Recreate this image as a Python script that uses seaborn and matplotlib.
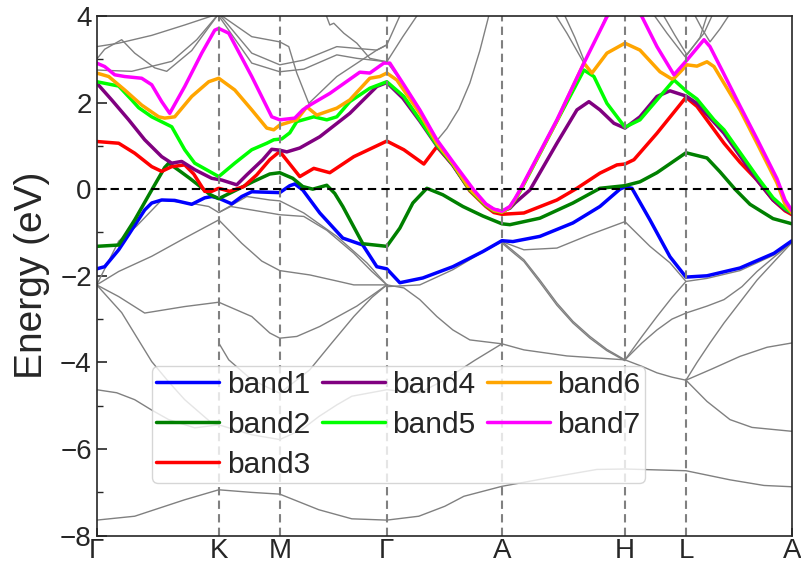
import matplotlib
matplotlib.use("Agg")
import matplotlib.pyplot as plt
import pandas as pd
import seaborn as sns

sns.set_style("ticks")
plt.rcParams["font.family"] = ["Liberation Sans", "DejaVu Sans"]

# high-symmetry points along the k-path (path distance units)
kpoints = [0, 122, 183, 290, 405, 528, 589, 695]
klabels = ["Γ", "K", "M", "Γ", "A", "H", "L", "A"]

# highlighted bands near the Fermi level
band1_k = [0, 8, 22, 32, 48, 55, 65, 78, 95, 108, 115, 122, 135, 145, 155, 183, 193, 198, 206, 223, 246, 266,
           280, 290, 303, 326, 356, 386, 405, 416, 443, 476, 503, 523, 528, 535, 553, 573, 589, 610, 643, 677, 695]
band1_e = [-1.84, -1.79, -1.40, -1.05, -0.48, -0.32, -0.25, -0.26, -0.35, -0.20, -0.17, -0.21, -0.34, -0.17, -0.06, -0.08, 0.08, 0.12, -0.02, -0.55, -1.13, -1.29,
           -1.79, -1.84, -2.16, -2.05, -1.79, -1.44, -1.19, -1.21, -1.09, -0.78, -0.40, 0.0, 0.05, 0.02, -0.71, -1.56, -2.03, -2.00, -1.82, -1.48, -1.19]

band2_k = [0, 22, 38, 55, 68, 72, 83, 93, 103, 113, 122, 136, 156, 173, 183, 196, 206, 216, 230, 238, 246, 266,
           290, 303, 316, 330, 346, 366, 386, 405, 413, 443, 476, 503, 528, 543, 560, 589, 610, 623, 638, 653, 676, 695]
band2_e = [-1.32, -1.29, -0.71, -0.02, 0.50, 0.60, 0.42, 0.25, 0.07, -0.12, -0.22, -0.06, 0.17, 0.35, 0.38, 0.25, 0.06, 0.0, 0.09, -0.10, -0.40, -1.26,
           -1.32, -0.90, -0.32, 0.02, -0.13, -0.40, -0.62, -0.80, -0.82, -0.67, -0.32, 0.02, 0.08, 0.17, 0.38, 0.84, 0.72, 0.40, 0.0, -0.35, -0.68, -0.80]

band3_k = [0, 22, 38, 55, 65, 75, 88, 97, 108, 115, 122, 133, 147, 160, 173, 183, 203, 217, 233, 257, 290, 307,
           327, 340, 356, 373, 389, 397, 405, 427, 460, 480, 503, 520, 528, 537, 560, 589, 600, 627, 643, 660, 676, 688, 695]
band3_e = [1.10, 1.06, 0.83, 0.52, 0.41, 0.52, 0.56, 0.35, -0.05, -0.05, 0.02, -0.05, 0.06, 0.33, 0.68, 0.87, 0.29, 0.48, 0.38, 0.75, 1.11, 0.91,
           0.58, 0.98, 0.56, -0.04, -0.40, -0.54, -0.58, -0.55, -0.25, 0.02, 0.37, 0.56, 0.58, 0.68, 1.29, 2.12, 1.91, 1.06, 0.62, 0.21, -0.25, -0.50, -0.59]

band4_k = [0, 15, 32, 48, 65, 75, 85, 98, 115, 125, 140, 150, 166, 175, 183, 190, 203, 223, 253, 280, 290, 306, 323,
           340, 356, 373, 389, 397, 405, 413, 418, 433, 460, 480, 492, 503, 517, 528, 543, 560, 573, 589, 600, 627, 660, 676, 688, 695]
band4_e = [2.45, 2.06, 1.60, 1.14, 0.75, 0.60, 0.64, 0.45, 0.25, 0.21, 0.10, 0.33, 0.68, 0.92, 0.90, 0.86, 0.95, 1.21, 1.75, 2.37, 2.46, 2.10, 1.57,
           1.00, 0.55, -0.02, -0.36, -0.47, -0.51, -0.44, -0.32, -0.02, 1.06, 1.83, 2.02, 1.83, 1.52, 1.41, 1.67, 2.14, 2.27, 2.15, 1.98, 1.29, 0.21, -0.25, -0.48, -0.56]

band5_k = [0, 22, 35, 42, 55, 75, 88, 98, 122, 138, 155, 170, 177, 185, 193, 200, 217, 230, 240, 253, 273, 290, 307, 323,
           340, 356, 373, 389, 397, 405, 413, 418, 423, 460, 487, 497, 510, 528, 543, 560, 577, 590, 600, 617, 627, 660, 676, 688, 695]
band5_e = [2.48, 2.38, 2.06, 1.88, 1.67, 1.44, 0.91, 0.60, 0.29, 0.60, 0.91, 1.06, 1.14, 1.16, 1.30, 1.56, 1.67, 1.60, 1.67, 2.02, 2.33, 2.48, 2.14, 1.60,
           1.02, 0.57, -0.02, -0.38, -0.50, -0.53, -0.42, -0.25, -0.06, 1.57, 2.75, 2.60, 1.98, 1.43, 1.60, 2.06, 2.52, 2.25, 2.08, 1.60, 1.37, 0.29, -0.20, -0.45, -0.55]

band6_k = [0, 12, 28, 45, 62, 68, 78, 95, 112, 122, 138, 155, 170, 177, 183, 200, 210, 220, 240, 253, 273, 283, 290, 300, 323,
           340, 356, 373, 389, 397, 405, 413, 418, 423, 460, 487, 495, 510, 528, 543, 563, 575, 578, 590, 600, 610, 617, 643, 660, 680, 688, 695]
band6_e = [2.68, 2.60, 2.29, 1.94, 1.67, 1.64, 1.67, 2.14, 2.48, 2.56, 2.29, 1.83, 1.41, 1.37, 1.48, 1.60, 1.90, 1.71, 1.87, 2.06, 2.56, 2.60, 2.68, 2.52, 1.75,
           1.06, 0.59, 0.0, -0.36, -0.49, -0.53, -0.41, -0.24, -0.04, 1.58, 2.91, 2.68, 3.14, 3.37, 3.21, 2.71, 2.54, 2.58, 2.87, 2.84, 2.94, 2.83, 1.83, 1.06, 0.14, -0.35, -0.55]

band7_k = [0, 8, 18, 28, 45, 55, 65, 73, 88, 105, 118, 122, 132, 155, 175, 183, 198, 206, 213, 233, 263, 273, 287, 293,
           307, 323, 340, 357, 377, 389, 397, 405, 413, 418, 423, 460, 487, 510, 528, 545, 560, 577, 590, 607, 613, 626, 643, 660, 680, 688, 695]
band7_e = [2.91, 2.83, 2.64, 2.60, 2.56, 2.41, 2.02, 1.75, 2.37, 3.14, 3.67, 3.71, 3.60, 2.60, 1.67, 1.60, 1.64, 1.83, 1.94, 2.21, 2.70, 2.68, 2.91, 2.91,
           2.41, 1.83, 1.14, 0.60, -0.02, -0.34, -0.46, -0.51, -0.40, -0.22, -0.02, 1.60, 2.91, 3.98, 4.5, 3.98, 3.29, 2.64, 2.98, 3.45, 3.29, 2.70, 1.92, 1.16, 0.24, -0.25, -0.50]

band_names = ["band1", "band2", "band3", "band4", "band5", "band6", "band7"]
band_colors = ["blue", "green", "red", "purple", "lime", "orange", "magenta"]

# remaining bands (grey)
grey_lowest_k = [0, 38, 88, 122, 155, 183, 222, 255, 290, 322, 348, 367, 405, 450, 500, 528, 589, 633, 667, 695]
grey_lowest_e = [-7.64, -7.55, -7.17, -6.94, -7.00, -7.04, -7.40, -7.61, -7.64, -7.55, -7.32, -7.09, -6.86, -6.67, -6.47, -6.46, -6.50, -6.71, -6.84, -6.87]
grey_s1_k = [0, 20, 38, 55, 72, 98, 122, 155, 183, 205, 222, 240, 255, 290, 322, 348, 378, 405]
grey_s1_e = [-4.63, -4.70, -4.86, -5.10, -5.32, -5.51, -5.44, -5.67, -5.78, -5.55, -5.25, -4.98, -4.78, -4.63, -4.71, -4.40, -3.95, -3.57]
grey_s2_k = [0, 25, 55, 72, 88, 105, 115, 122]
grey_s2_e = [-2.21, -2.85, -3.98, -4.45, -4.86, -5.20, -5.40, -5.44]
grey_s3_k = [122, 132, 155, 183, 213, 235, 257, 275, 290]
grey_s3_e = [-3.55, -3.94, -4.40, -4.71, -4.17, -3.55, -2.94, -2.50, -2.21]
grey_s4_k = [0, 22, 48, 88, 122, 155, 173, 183, 200, 223, 260, 290]
grey_s4_e = [-2.21, -2.48, -2.86, -2.71, -2.61, -2.94, -3.32, -3.44, -3.40, -3.17, -2.70, -2.21]
grey_s5_k = [0, 22, 55, 88, 122, 145, 165, 183, 213, 240, 257, 290]
grey_s5_e = [-2.21, -1.90, -1.55, -1.13, -0.71, -1.25, -1.66, -1.88, -1.98, -2.12, -2.21, -2.21]
grey_s6_k = [0, 22, 40, 65, 95, 112, 122, 150, 173, 183, 207, 240, 270, 290]
grey_s6_e = [-2.21, -1.20, -0.85, -0.25, -0.33, -0.40, -0.54, -0.17, -0.25, -0.27, -0.55, -1.09, -1.70, -2.21]
grey_s7_k = [122, 134, 160, 183, 207, 230, 257, 275, 290]
grey_s7_e = [-0.54, -0.40, -0.50, -0.59, -0.63, -0.95, -1.48, -1.90, -2.21]
grey_s8_k = [290, 323, 356, 386, 405, 427, 460, 493, 528, 553, 573, 589, 610, 643, 677, 695]
grey_s8_e = [-2.25, -2.21, -1.86, -1.45, -1.21, -1.40, -1.36, -1.05, -0.75, -1.32, -1.70, -2.13, -2.06, -1.88, -1.52, -1.23]
grey_s9_k = [405, 415, 427, 443, 460, 476, 493, 510, 528]
grey_s9_e = [-1.21, -1.40, -1.63, -2.10, -2.63, -3.05, -3.40, -3.70, -3.94]
grey_s10_k = [405, 415, 427, 443, 460, 476, 493, 510, 528]
grey_s10_e = [-1.24, -1.44, -1.67, -2.15, -2.68, -3.09, -3.44, -3.73, -3.96]
grey_s11_k = [528, 545, 560, 575, 589, 610, 627, 645, 660, 678, 695]
grey_s11_e = [-3.94, -3.55, -3.25, -3.00, -2.86, -2.70, -2.55, -2.25, -1.90, -1.55, -1.23]
grey_s12_k = [528, 545, 560, 575, 589]
grey_s12_e = [-3.94, -3.40, -2.94, -2.50, -2.13]
grey_s13_k = [589, 600, 613, 627, 645, 660, 678, 695]
grey_s13_e = [-4.41, -4.00, -3.55, -3.09, -2.55, -2.10, -1.65, -1.23]
grey_s14_k = [589, 610, 633, 655, 695]
grey_s14_e = [-4.41, -4.90, -5.32, -5.50, -5.59]
grey_s15_k = [528, 545, 560, 575, 589]
grey_s15_e = [-3.94, -4.09, -4.24, -4.34, -4.41]
grey_s16_k = [290, 307, 323, 340, 356, 373, 405, 427, 470, 528]
grey_s16_e = [-2.21, -2.28, -2.55, -2.94, -3.25, -3.48, -3.57, -3.71, -3.85, -3.94]
grey_s17_k = [589, 615, 643, 670, 695]
grey_s17_e = [-4.41, -4.15, -3.86, -3.65, -3.55]
grey_u1_k = [0, 22, 55, 88, 122]
grey_u1_e = [3.29, 3.37, 3.55, 3.79, 4.05]
grey_u2_k = [0, 8, 25, 38, 58, 70, 95, 122]
grey_u2_e = [3.00, 3.23, 3.45, 3.14, 2.80, 2.72, 3.20, 4.05]
grey_u3_k = [0, 35, 75, 100, 122]
grey_u3_e = [2.75, 2.72, 2.95, 3.45, 4.05]
grey_u4_k = [122, 155, 183, 192, 200, 212, 240, 280, 290]
grey_u4_e = [4.05, 3.52, 3.40, 3.29, 2.68, 1.98, 2.60, 3.21, 3.33]
grey_u5_k = [122, 155, 183, 207, 240, 280, 290]
grey_u5_e = [4.05, 3.14, 2.87, 2.98, 3.29, 3.21, 3.33]
grey_u6_k = [122, 155, 183, 207, 240, 260, 290]
grey_u6_e = [4.00, 2.91, 2.71, 2.77, 3.10, 3.02, 2.94]
grey_u7_k = [228, 233, 237, 247, 260, 273, 290]
grey_u7_e = [4.10, 3.79, 3.83, 3.60, 3.37, 3.02, 2.94]
grey_u8_k = [290, 306, 323]
grey_u8_e = [2.94, 3.52, 4.10]
grey_u9_k = [290, 303, 310]
grey_u9_e = [3.33, 4.00, 4.15]
grey_u10_k = [290, 306, 323, 340, 350, 362, 373, 383, 393]
grey_u10_e = [2.94, 2.43, 1.85, 1.12, 1.40, 1.85, 2.45, 3.20, 4.10]
grey_u11_k = [455, 470, 487, 498, 512]
grey_u11_e = [4.15, 3.60, 2.91, 3.40, 4.15]
grey_u12_k = [465, 478, 487]
grey_u12_e = [4.15, 3.50, 2.98]
grey_u13_k = [553, 570, 588, 607, 618]
grey_u13_e = [4.15, 3.60, 3.06, 3.60, 4.15]
grey_u14_k = [563, 578, 590, 603, 612]
grey_u14_e = [4.15, 3.55, 3.10, 3.50, 4.15]
grey_u15_k = [597, 605, 613, 623, 633]
grey_u15_e = [4.05, 3.70, 3.40, 3.70, 4.05]

grey_k = [grey_lowest_k, grey_s1_k, grey_s2_k, grey_s3_k, grey_s4_k, grey_s5_k, grey_s6_k, grey_s7_k, grey_s8_k,
          grey_s9_k, grey_s10_k, grey_s11_k, grey_s12_k, grey_s13_k, grey_s14_k, grey_s15_k, grey_s16_k, grey_s17_k,
          grey_u1_k, grey_u2_k, grey_u3_k, grey_u4_k, grey_u5_k, grey_u6_k, grey_u7_k, grey_u8_k, grey_u9_k,
          grey_u10_k, grey_u11_k, grey_u12_k, grey_u13_k, grey_u14_k, grey_u15_k]
grey_e = [grey_lowest_e, grey_s1_e, grey_s2_e, grey_s3_e, grey_s4_e, grey_s5_e, grey_s6_e, grey_s7_e, grey_s8_e,
          grey_s9_e, grey_s10_e, grey_s11_e, grey_s12_e, grey_s13_e, grey_s14_e, grey_s15_e, grey_s16_e, grey_s17_e,
          grey_u1_e, grey_u2_e, grey_u3_e, grey_u4_e, grey_u5_e, grey_u6_e, grey_u7_e, grey_u8_e, grey_u9_e,
          grey_u10_e, grey_u11_e, grey_u12_e, grey_u13_e, grey_u14_e, grey_u15_e]

# %%
grey_df = pd.concat(
    [pd.DataFrame({"k": k, "E": e, "line": i}) for i, (k, e) in enumerate(zip(grey_k, grey_e))],
    ignore_index=True,
)
bands_k = [band1_k, band2_k, band3_k, band4_k, band5_k, band6_k, band7_k]
bands_e = [band1_e, band2_e, band3_e, band4_e, band5_e, band6_e, band7_e]
band_df = pd.concat(
    [pd.DataFrame({"k": k, "E": e, "band": name}) for name, k, e in zip(band_names, bands_k, bands_e)],
    ignore_index=True,
)

# %%
fig = plt.figure(figsize=(8.01, 5.69), dpi=100)
ax = fig.add_axes([0.1207, 0.0585, 0.8681, 0.9136])

sns.lineplot(data=grey_df, x="k", y="E", units="line", estimator=None, sort=False,
             color="grey", linewidth=1.0, ax=ax, legend=False)
sns.lineplot(data=band_df, x="k", y="E", hue="band", units="band", estimator=None, sort=False,
             palette=dict(zip(band_names, band_colors)), linewidth=2.5, ax=ax)

for kp in kpoints[1:-1]:
    ax.axvline(kp, color="grey", linestyle=(0, (4, 2.5)), linewidth=1.5)
ax.axhline(0, color="black", linestyle=(0, (4, 2.5)), linewidth=1.5)

ax.set_xlim(kpoints[0], kpoints[-1])
ax.set_ylim(-8, 4)
ax.set_xticks(kpoints)
ax.set_xticklabels(klabels)
ax.set_yticks(range(-8, 5, 2))
ax.set_yticks(range(-7, 4, 2), minor=True)
ax.tick_params(axis="both", which="both", direction="in", labelsize=20)
ax.tick_params(axis="y", which="major", length=7, width=1.2)
ax.tick_params(axis="y", which="minor", length=4, width=1.0)
ax.tick_params(axis="x", length=6, width=1.2, pad=2)
for s in ax.spines.values():
    s.set_linewidth(1.2)
ax.set_xlabel("")
ax.set_ylabel("Energy (eV)", fontsize=28, labelpad=7)

ax.legend(ncol=3, fontsize=21.5, loc="lower left", bbox_to_anchor=(0.0795, 0.1014),
          borderaxespad=0, handlelength=2.1, columnspacing=0.4, handletextpad=0.25,
          labelspacing=0.4, borderpad=0.15)

fig.savefig("out.png", dpi=100)
